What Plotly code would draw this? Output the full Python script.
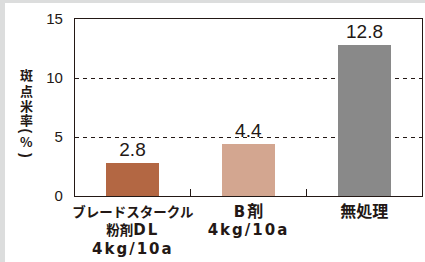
import plotly.graph_objects as go

latin = '<span style="font-family:DejaVu Sans, sans-serif;font-size:15px;letter-spacing:2px">{}</span>'
jp_small = '<span style="font-size:13.5px">{}</span>'
jp_large = '<span style="font-size:16px">{}</span>'
categories = [
    jp_small.format("ブレードスタークル") + "<br>" + jp_small.format("粉剤") + latin.format("DL")
    + "<br>" + latin.format("4kg/10a"),
    latin.format("B") + jp_large.format("剤") + "<br>" + latin.format("4kg/10a"),
    jp_large.format("無処理"),
]
values = [2.8, 4.4, 12.8]
value_labels = ["2.8", "4.4", "12.8"]
bar_colors = ["#b36743", "#d3a690", "#898989"]
y_ticks = [0, 5, 10, 15]
y_title_chars = ["斑", "点", "米", "率", "(", "%", ")"]
y_title_pos = [74, 90.5, 105, 119.5, 130.5, 141.5, 155]
y_title_angle = [0, 0, 0, 0, 90, 0, 90]

ink = "#231815"
jp_font = "Noto Sans CJK JP, sans-serif"
num_font = "Liberation Sans, Arial, sans-serif"

W, H = 425, 262
L, R, T, B = 75, 3, 19, 66
pw, ph = W - L - R, H - T - B

def px(x):
    return (x - L) / pw

def py(y):
    return (H - B - y) / ph

fig = go.Figure()
fig.add_trace(go.Bar(
    x=categories, y=values, width=0.457,
    marker=dict(color=bar_colors, line=dict(width=0)),
    text=value_labels, textposition="outside", cliponaxis=False,
    textfont=dict(family=num_font, size=19, color=ink),
    hoverinfo="skip",
))

annotations = [
    dict(text=c, xref="paper", yref="paper", x=px(26), y=py(yy),
         xanchor="center", yanchor="middle", showarrow=False, textangle=a,
         font=dict(family=jp_font if a == 0 else num_font,
                   size=13 if a == 0 else 14, color=ink, weight="bold"))
    for c, yy, a in zip(y_title_chars, y_title_pos, y_title_angle)
]

fig.update_layout(
    width=W, height=H,
    margin=dict(l=L, r=R, t=T, b=B, pad=0, autoexpand=False),
    paper_bgcolor="#dcdddd",
    plot_bgcolor="rgba(0,0,0,0)",
    showlegend=False,
    bargap=0,
    xaxis=dict(
        type="category", tickson="boundaries", ticks="inside", ticklen=7,
        tickcolor=ink, tickwidth=1, tickangle=0, automargin=False,
        showline=True, linecolor=ink, linewidth=1.2, mirror=True,
        showgrid=False, ticklabelstandoff=2,
        tickfont=dict(family=jp_font, size=14.5, color=ink, weight="bold"),
        range=[-0.5, 2.5],
    ),
    yaxis=dict(
        range=[0, 15], tickvals=y_ticks, ticks="", automargin=False,
        showline=True, linecolor=ink, linewidth=1.2, mirror=True,
        showgrid=True, gridcolor=ink, gridwidth=1, griddash="4px,4px",
        zeroline=False, ticklabelstandoff=8,
        tickfont=dict(family=num_font, size=15, color=ink),
    ),
    shapes=[dict(
        type="rect", xref="paper", yref="paper", layer="below",
        x0=px(5), x1=px(W + 2), y0=py(H + 2), y1=py(3),
        fillcolor="white", line=dict(width=0),
    )],
    annotations=annotations,
)

fig.write_html("out.html", config={"displayModeBar": False},
               post_script="document.body.style.margin='0';")
